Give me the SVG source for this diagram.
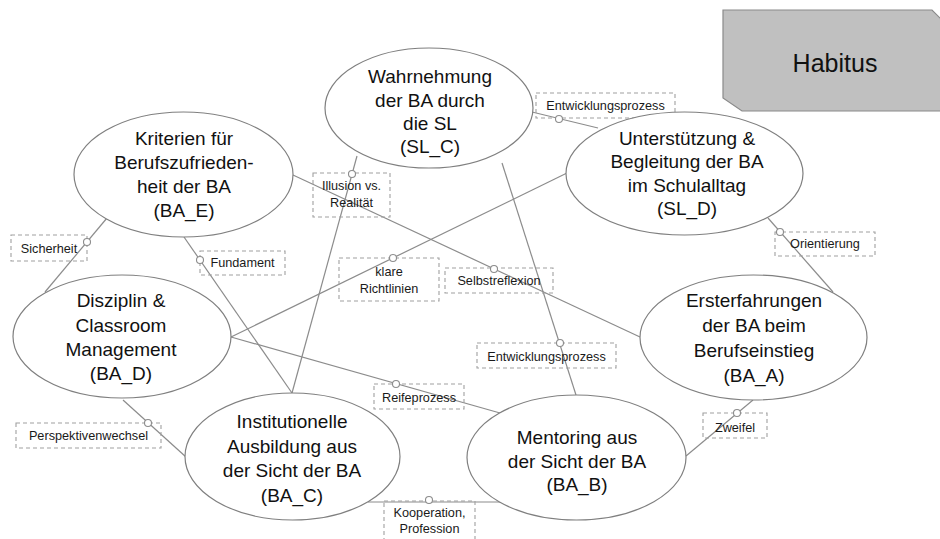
<svg xmlns="http://www.w3.org/2000/svg" width="940" height="539" viewBox="0 0 940 539">
<style>
.conn line{stroke:#8c8c8c;stroke-width:1.2;fill:none}
.dot{fill:#fff;stroke:#8c8c8c;stroke-width:1.1}
.lbl rect{fill:none;stroke:#a0a0a0;stroke-width:1.1;stroke-dasharray:4,3}
.lbl text{font-family:"Liberation Sans",Arial,sans-serif;font-size:12.7px;fill:#1a1a1a;text-anchor:middle}
.node ellipse{fill:#fff;stroke:#7f7f7f;stroke-width:1.2}
.node text{font-family:"Liberation Sans",Arial,sans-serif;font-size:19px;fill:#111;text-anchor:middle}
</style>
<rect width="940" height="539" fill="#fff"/>
<g id="habitus">
<polygon points="723,10 932,10 945,23 945,111 742,111 723,98" fill="#c0c0c0" stroke="#8a8a8a" stroke-width="1.2"/>
<text x="835" y="72" font-family="Liberation Sans,Arial,sans-serif" font-size="25" fill="#111" text-anchor="middle">Habitus</text>
</g>
<g id="connectors" class="conn">
<line x1="532" y1="112" x2="598" y2="128"/>
<line x1="357" y1="156" x2="292" y2="393"/>
<line x1="502" y1="163" x2="576" y2="395"/>
<line x1="567" y1="173" x2="231" y2="337"/>
<line x1="293" y1="175" x2="640" y2="337"/>
<line x1="107" y1="218" x2="45" y2="292"/>
<line x1="184" y1="237" x2="292" y2="393"/>
<line x1="231" y1="337" x2="500" y2="413"/>
<line x1="123" y1="400" x2="186" y2="457"/>
<line x1="368" y1="502" x2="500" y2="502"/>
<line x1="768" y1="218" x2="833" y2="292"/>
<line x1="753" y1="400" x2="686" y2="456"/>
</g>
<g id="labels" class="lbl">
<g id="lbl-entw1"><rect x="536" y="93" width="139" height="25"/><text x="605.5" y="110">Entwicklungsprozess</text></g>
<g id="lbl-illusion"><rect x="313" y="173" width="77" height="44"/><text x="351.5" y="190">Illusion vs.</text><text x="351.5" y="207">Realität</text></g>
<g id="lbl-entw2"><rect x="477" y="343" width="139" height="25"/><text x="546.5" y="361">Entwicklungsprozess</text></g>
<g id="lbl-klare"><rect x="339" y="258" width="100" height="43"/><text x="389" y="276">klare</text><text x="389" y="293">Richtlinien</text></g>
<g id="lbl-selbst"><rect x="445" y="268" width="108" height="25"/><text x="499" y="285">Selbstreflexion</text></g>
<g id="lbl-sicher"><rect x="11" y="235" width="76" height="26"/><text x="49" y="253">Sicherheit</text></g>
<g id="lbl-fund"><rect x="200" y="251" width="85" height="24"/><text x="242.5" y="267">Fundament</text></g>
<g id="lbl-reife"><rect x="374" y="384" width="90" height="25"/><text x="419" y="402">Reifeprozess</text></g>
<g id="lbl-persp"><rect x="16" y="423" width="145" height="25"/><text x="88.5" y="440">Perspektivenwechsel</text></g>
<g id="lbl-koop"><rect x="384" y="501" width="91" height="45"/><text x="429.5" y="517">Kooperation,</text><text x="429.5" y="533">Profession</text></g>
<g id="lbl-orient"><rect x="775" y="232" width="100" height="24"/><text x="825" y="248">Orientierung</text></g>
<g id="lbl-zweifel"><rect x="703" y="413" width="64" height="25"/><text x="735" y="432">Zweifel</text></g>
</g>
<g id="dots">
<circle class="dot" cx="559" cy="119" r="3.5"/>
<circle class="dot" cx="352" cy="174" r="3.5"/>
<circle class="dot" cx="560" cy="343" r="3.5"/>
<circle class="dot" cx="393" cy="258" r="3.5"/>
<circle class="dot" cx="494" cy="269" r="3.5"/>
<circle class="dot" cx="87" cy="242" r="3.5"/>
<circle class="dot" cx="200" cy="260" r="3.5"/>
<circle class="dot" cx="396" cy="384" r="3.5"/>
<circle class="dot" cx="148" cy="423" r="3.5"/>
<circle class="dot" cx="429" cy="500" r="3.5"/>
<circle class="dot" cx="780" cy="232" r="3.5"/>
<circle class="dot" cx="737" cy="413" r="3.5"/>
</g>
<g id="SL_C" class="node"><ellipse cx="429" cy="108" rx="104" ry="60"/>
<text x="430" y="83">Wahrnehmung</text><text x="430" y="107">der BA durch</text><text x="430" y="130">die SL</text><text x="430" y="153">(SL_C)</text></g>
<g id="SL_D" class="node"><ellipse cx="684.5" cy="173.5" rx="118.5" ry="61.5"/>
<text x="687" y="145">Unterstützung &amp;</text><text x="687" y="168">Begleitung der BA</text><text x="687" y="192">im Schulalltag</text><text x="687" y="215">(SL_D)</text></g>
<g id="BA_E" class="node"><ellipse cx="183.5" cy="174.5" rx="109.5" ry="62.5"/>
<text x="184" y="145">Kriterien für</text><text x="184" y="169">Berufszufrieden-</text><text x="184" y="193">heit der BA</text><text x="184" y="217">(BA_E)</text></g>
<g id="BA_D" class="node"><ellipse cx="122" cy="336.5" rx="109" ry="61.5"/>
<text x="121" y="307">Disziplin &amp;</text><text x="121" y="332">Classroom</text><text x="121" y="356">Management</text><text x="121" y="380">(BA_D)</text></g>
<g id="BA_C" class="node"><ellipse cx="292.5" cy="456.5" rx="107.5" ry="63.5"/>
<text x="292" y="428">Institutionelle</text><text x="292" y="453">Ausbildung aus</text><text x="292" y="477">der Sicht der BA</text><text x="292" y="502">(BA_C)</text></g>
<g id="BA_B" class="node"><ellipse cx="576.5" cy="457.5" rx="109.5" ry="62.5"/>
<text x="577" y="444">Mentoring aus</text><text x="577" y="468">der Sicht der BA</text><text x="577" y="491">(BA_B)</text></g>
<g id="BA_A" class="node"><ellipse cx="753.5" cy="337.5" rx="113.5" ry="62.5"/>
<text x="754" y="307">Ersterfahrungen</text><text x="754" y="332">der BA beim</text><text x="754" y="357">Berufseinstieg</text><text x="754" y="382">(BA_A)</text></g>
</svg>
